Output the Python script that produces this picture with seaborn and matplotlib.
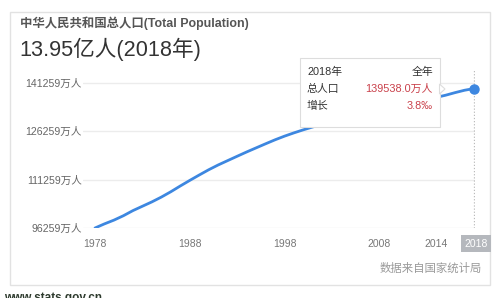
import matplotlib
matplotlib.use("Agg")
import matplotlib.pyplot as plt
import seaborn as sns
import pandas as pd
from matplotlib.patches import FancyBboxPatch, Rectangle, Polygon
import matplotlib.transforms as mtransforms

years = list(range(1978, 2019))
population = [96259, 97542, 98705, 100072, 101654, 103008, 104357, 105851, 107507, 109300,
              111026, 112704, 114333, 115823, 117171, 118517, 119850, 121121, 122389, 123626,
              124761, 125786, 126743, 127627, 128453, 129227, 129988, 130756, 131448, 132129,
              132802, 133450, 134091, 134735, 135404, 136072, 136782, 137462, 138271, 139008,
              139538]
y_ticks = [96259, 111259, 126259, 141259]
y_tick_labels = [f"{v}万人" for v in y_ticks]
x_ticks = [1978, 1988, 1998, 2008, 2014]
x_tick_labels = ["1978", "1988", "1998", "2008", "2014"]
title_text = "中华人民共和国总人口(Total Population)"
big_text = "13.95亿人(2018年)"
source_text = "数据来自国家统计局"
tip_year = "2018年"
tip_period = "全年"
tip_pop_label = "总人口"
tip_pop_value = "139538.0万人"
tip_growth_label = "增长"
tip_growth_value = "3.8‰"

sns.set_theme(style="white")
FAM = ['Liberation Sans', 'Noto Sans CJK SC', 'DejaVu Sans']
plt.rcParams['font.family'] = FAM

W, H = 499, 298
fig = plt.figure(figsize=(W / 100, H / 100), dpi=100)
fig.patch.set_facecolor("white")

def fx(px):
    return px / W

def fy(py):
    return 1 - py / H

# card
card = Rectangle((fx(10), fy(285)), fx(490) - fx(10), fy(12) - fy(285),
                 transform=fig.transFigure, facecolor="white", edgecolor="#e2e2e2",
                 linewidth=1.0, zorder=-5)
fig.patches.append(card)

fig.text(fx(20), fy(23), title_text, fontsize=8.9, fontweight="bold", color="#555555",
         ha="left", va="center")
fig.text(fx(19), fy(49), big_text, fontsize=15.6, color="#333333", ha="left", va="center")

ax = fig.add_axes([fx(83), fy(228), fx(475) - fx(83), fy(70) - fy(228)])
ax.set_zorder(1)
ax.set_facecolor("none")
df = pd.DataFrame({"year": years, "pop": population})
sns.lineplot(data=df, x="year", y="pop", ax=ax, color="#3d87e0", linewidth=2.0, zorder=3)
ax.plot([years[-1]], [population[-1]], "o", color="#3d87e0", markersize=6.5, zorder=4,
        clip_on=False)

px_per_val = 145 / 45000
ymin = y_ticks[0]
ymax = ymin + (228 - 70) / px_per_val
ax.set_ylim(ymin, ymax)
px_per_year = (474 - 95) / 40
xmin = 1978 - 12 / px_per_year
xmax = xmin + (475 - 83) / px_per_year
ax.set_xlim(xmin, xmax)

ax.set_yticks(y_ticks)
ax.set_yticklabels(y_tick_labels, fontsize=7.6, color="#666666")
ax.set_xticks(x_ticks)
ax.set_xticklabels(x_tick_labels, fontsize=7.5, color="#777777")
ax.tick_params(axis="both", length=0)
ax.tick_params(axis="y", pad=1)
ax.tick_params(axis="x", pad=8)
for s in ax.spines.values():
    s.set_visible(False)
ax.grid(axis="y", color="#ececec", linewidth=1.0)
ax.grid(axis="x", visible=False)
ax.set_xlabel("")
ax.set_ylabel("")

# crosshair
ax.axvline(years[-1], color="#bbbbbb", linewidth=0.9, linestyle=(0, (1, 1.5)), zorder=2)

# 2018 label box
trans = mtransforms.blended_transform_factory(ax.transData, ax.transAxes)
ax.text(years[-1] + 0.2, -0.1, str(years[-1]), transform=trans, fontsize=7.5, color="white",
        ha="center", va="center",
        bbox=dict(boxstyle="square,pad=0.35", facecolor="#b5b8bd", edgecolor="none"),
        clip_on=False)

# tooltip
shadow = FancyBboxPatch((fx(301), fy(128)), fx(441) - fx(301), fy(58) - fy(128),
                        boxstyle="square,pad=0", transform=fig.transFigure,
                        facecolor="#e6e6e6", edgecolor="none", zorder=5)
fig.patches.append(shadow)
tip = Rectangle((fx(300), fy(127)), fx(440) - fx(300), fy(58) - fy(127),
                transform=fig.transFigure, facecolor="white", edgecolor="#dddddd",
                linewidth=0.8, zorder=6)
fig.patches.append(tip)
arrow = Polygon([(fx(439.5), fy(84)), (fx(445), fy(89)), (fx(439.5), fy(94))], closed=True,
                transform=fig.transFigure, facecolor="white", edgecolor="#dddddd",
                linewidth=0.8, zorder=6)
fig.patches.append(arrow)
fs = 7.8
fig.text(fx(307), fy(72), tip_year, fontsize=fs, color="#333333", ha="left", va="center", zorder=7)
fig.text(fx(433), fy(72), tip_period, fontsize=fs, color="#333333", ha="right", va="center", zorder=7)
fig.text(fx(307), fy(89), tip_pop_label, fontsize=fs, color="#333333", ha="left", va="center", zorder=7)
fig.text(fx(433), fy(89), tip_pop_value, fontsize=fs, color="#c9404a", ha="right", va="center", zorder=7)
fig.text(fx(307), fy(106), tip_growth_label, fontsize=fs, color="#333333", ha="left", va="center", zorder=7)
fig.text(fx(433), fy(106), tip_growth_value, fontsize=fs, color="#c9404a", ha="right", va="center", zorder=7)

fig.text(fx(482), fy(268), source_text, fontsize=8.2, color="#999999", ha="right", va="center")
fig.text(fx(4), fy(292), "www.stats.gov.cn", fontsize=8.5, color="#2d3a2d", ha="left", va="top",
         fontweight="bold")

fig.savefig("out.png", dpi=100)
